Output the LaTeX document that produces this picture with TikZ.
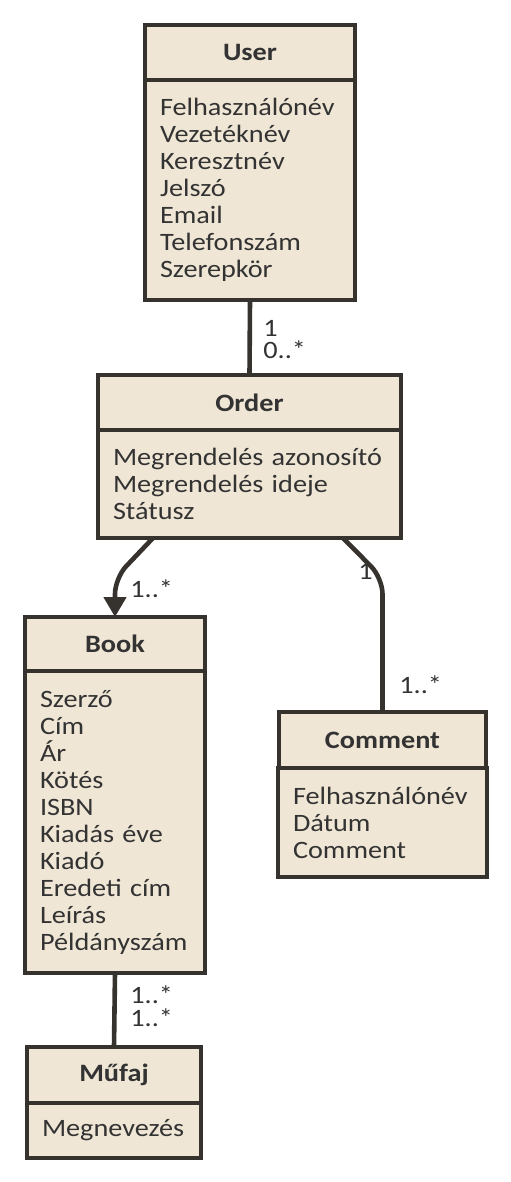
\documentclass[tikz,border=0pt]{standalone}
\usepackage{fontspec}
\setmainfont[FakeStretch=1.13]{Carlito}
\usetikzlibrary{positioning,arrows.meta}
\definecolor{boxfill}{HTML}{EFE6D5}
\definecolor{boxline}{HTML}{36332E}
\definecolor{txt}{HTML}{333333}
\begin{document}
\begin{tikzpicture}[x=0.5pt, y=-0.5pt,
  every node/.style={font=\fontsize{12.5pt}{13.5pt}\selectfont, text=txt},
  classhead/.style={rectangle, draw=boxline, fill=boxfill, line width=2.2pt, outer sep=0pt, anchor=north, font=\fontsize{12.5pt}{13.5pt}\selectfont\bfseries},
  classbody/.style={rectangle, draw=boxline, fill=boxfill, line width=2.2pt, outer sep=0pt, inner xsep=7.5pt, align=left, below=0pt of #1},
  assoc/.style={draw=boxline, line width=2.3pt, rounded corners=8pt},
  mult/.style={inner sep=0pt, anchor=west, text height=8pt, text depth=0.5pt}]

\useasboundingbox (0,0) rectangle (510,1182);

% User
\node[classhead, minimum width=105pt, minimum height=27.5pt] (userhead) at (250,25) {User};
\node[classbody=userhead, minimum width=105pt, minimum height=110pt, text width=90pt] (userbody)
  {Felhasználónév\\Vezetéknév\\Keresztnév\\Jelszó\\Email\\Telefonszám\\Szerepkör};

% Order
\node[classhead, minimum width=151.5pt, minimum height=27.5pt] (orderhead) at (249.5,375) {Order};
\node[classbody=orderhead, minimum width=151.5pt, minimum height=54pt, text width=136.5pt] (orderbody)
  {Megrendelés azonosító\\Megrendelés ideje\\Státusz};

% Book
\node[classhead, minimum width=90pt, minimum height=27pt] (bookhead) at (115,617) {Book};
\node[classbody=bookhead, minimum width=90pt, minimum height=151pt, text width=75pt] (bookbody)
  {Szerző\\Cím\\Ár\\Kötés\\ISBN\\Kiadás éve\\Kiadó\\Eredeti cím\\Leírás\\Példányszám};

% Comment
\node[classhead, minimum width=103.5pt, minimum height=28pt] (commenthead) at (382.5,712) {Comment};
\node[classbody=commenthead, minimum width=103.5pt, minimum height=54.5pt, text width=89.5pt] (commentbody)
  {Felhasználónév\\Dátum\\Comment};

% Mufaj
\node[classhead, minimum width=87pt, minimum height=28pt] (mufajhead) at (114,1047) {Műfaj};
\node[classbody=mufajhead, minimum width=87pt, minimum height=27.5pt, text width=72pt] (mufajbody)
  {Megnevezés};

% User -- Order
\draw[assoc] (userbody.south) -- (orderhead.north);
\node[mult] (usermult) at (263,329) {1};
\node[mult] (ordermult) at (263,351) {0..*};

% Order -> Book
\coordinate (bookbend) at (115,578);
\draw[assoc, -{Triangle[length=10pt, width=11pt]}] ([xshift=27.5pt]orderbody.south west) -- (bookbend) -- (bookhead.north);
\node[mult] (bookmult) at (130,590) {1..*};

% Order -- Comment
\coordinate (commentbend) at (382.5,578);
\draw[assoc] ([xshift=-29pt]orderbody.south east) -- (commentbend) -- (commenthead.north);
\node[mult] (ordermult2) at (358,572) {1};
\node[mult] (commentmult) at (399,686) {1..*};

% Book -- Mufaj
\draw[assoc] (bookbody.south) -- (mufajhead.north);
\node[mult] (bookmult2) at (130,996) {1..*};
\node[mult] (mufajmult) at (130,1019) {1..*};

\end{tikzpicture}
\end{document}
